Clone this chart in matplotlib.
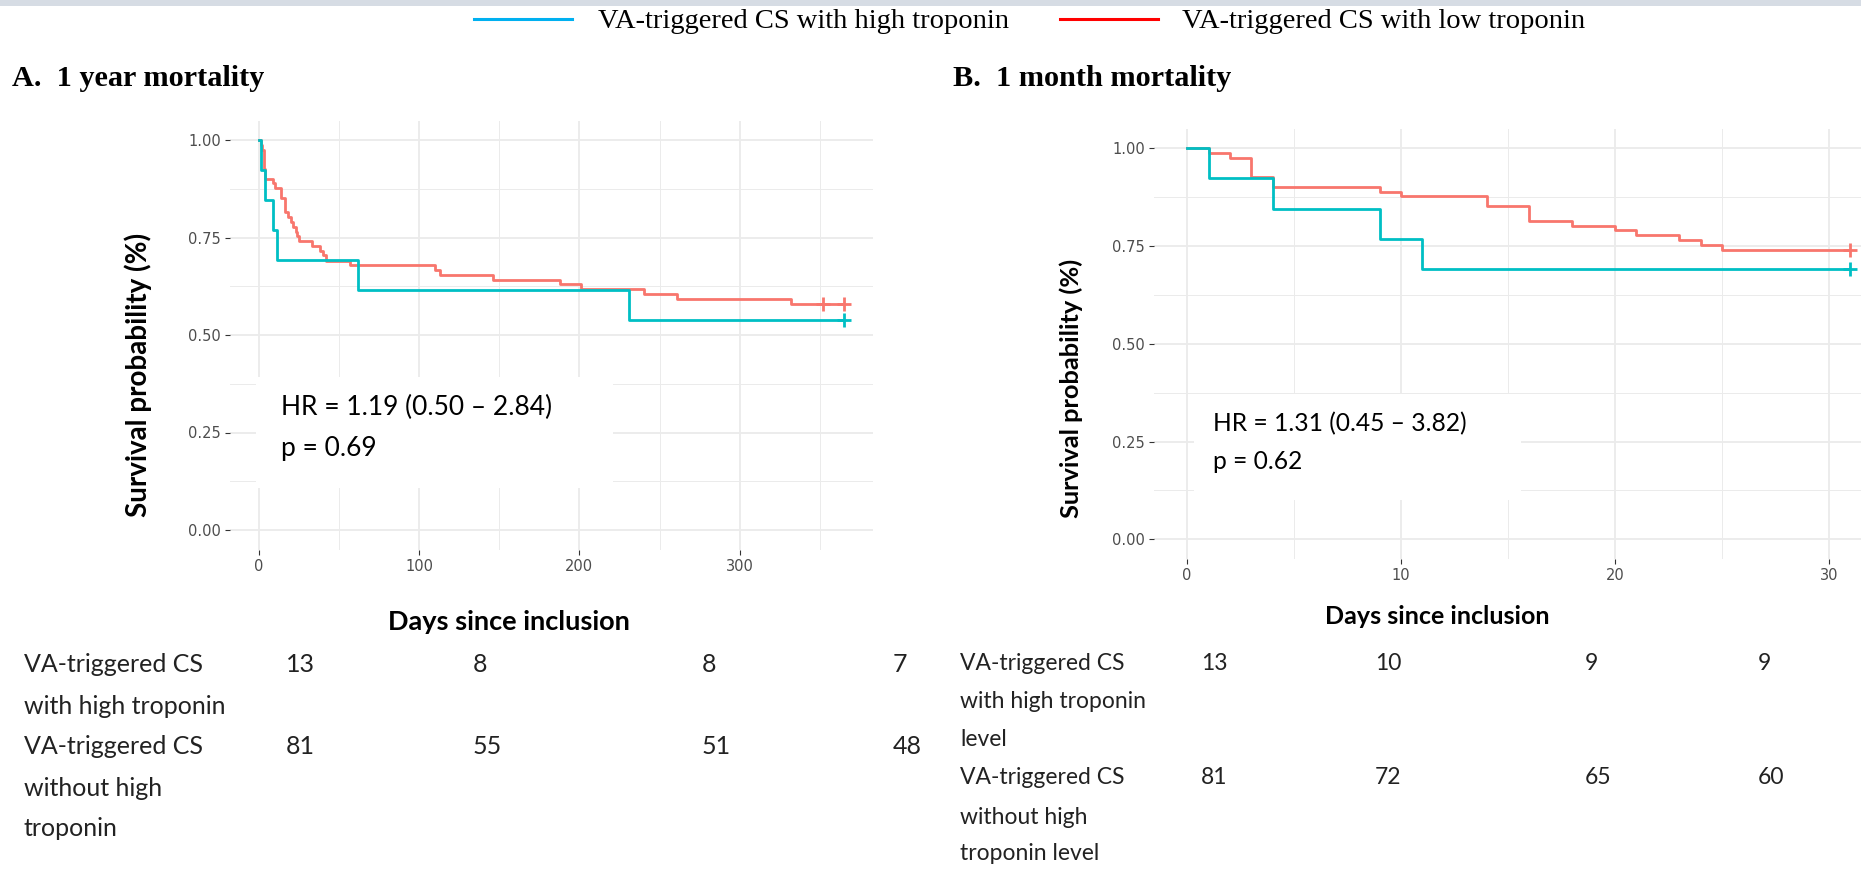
import numpy as np
import matplotlib
matplotlib.use("Agg")
import matplotlib.pyplot as plt
from matplotlib.patches import Rectangle
from matplotlib.lines import Line2D
from matplotlib.ticker import MultipleLocator, FormatStrFormatter

W, H = 1861, 877

# ---- Kaplan-Meier steps ----
# A. 1 year
yr_high_t = [0, 1, 4, 9, 11, 62, 231]
yr_high_s = [1.0, 0.923, 0.846, 0.769, 0.692, 0.615, 0.538]
yr_high_cens = [365]
yr_low_t = [0, 1, 2, 3, 4, 9, 10, 14, 16, 18, 20, 21, 23, 24, 25, 33, 38, 40,
            42, 57, 110, 113, 146, 188, 201, 240, 261, 332]
yr_low_s = [1.0, 0.988, 0.975, 0.926, 0.901, 0.889, 0.877, 0.852, 0.815, 0.802,
            0.790, 0.778, 0.765, 0.753, 0.741, 0.728, 0.716, 0.704, 0.691, 0.679,
            0.667, 0.654, 0.642, 0.630, 0.617, 0.605, 0.593, 0.580]
yr_low_cens = [352, 365]
yr_end = 365

# B. 1 month
mo_high_t = [0, 1, 4, 9, 11]
mo_high_s = [1.0, 0.923, 0.846, 0.769, 0.692]
mo_high_cens = [31]
mo_low_t = [0, 1, 2, 3, 4, 9, 10, 14, 16, 18, 20, 21, 23, 24, 25]
mo_low_s = [1.0, 0.988, 0.975, 0.926, 0.901, 0.889, 0.877, 0.852, 0.815, 0.802,
            0.790, 0.778, 0.765, 0.753, 0.741]
mo_low_cens = [31]
mo_end = 31

# numbers at risk
yr_risk_high = [13, 8, 8, 7]
yr_risk_low = [81, 55, 51, 48]
mo_risk_high = [13, 10, 9, 9]
mo_risk_low = [81, 72, 65, 60]

yr_hr = "HR = 1.19 (0.50 \u2013 2.84)"
yr_p = "p = 0.69"
mo_hr = "HR = 1.31 (0.45 \u2013 3.82)"
mo_p = "p = 0.62"

C_HIGH = "#00bfc4"
C_LOW = "#f8766d"
GRID = "#ebebeb"
SANS = "Lato"
SERIF = "Liberation Serif"


def fx(x):
    return x / W


def fy(y):
    return 1 - y / H


def add_panel(rect_px, xlim, xmajor, xminor):
    l, t, r, b = rect_px
    ax = fig.add_axes([fx(l), fy(b), (r - l) / W, (b - t) / H])
    ax.set_xlim(*xlim)
    ax.set_ylim(-0.05, 1.05)
    for s in ax.spines.values():
        s.set_visible(False)
    ax.xaxis.set_major_locator(MultipleLocator(xmajor))
    ax.xaxis.set_minor_locator(MultipleLocator(xminor))
    ax.yaxis.set_major_locator(MultipleLocator(0.25))
    ax.yaxis.set_minor_locator(MultipleLocator(0.125))
    ax.yaxis.set_major_formatter(FormatStrFormatter("%.2f"))
    ax.set_axisbelow(True)
    ax.grid(which="major", color=GRID, lw=1.3)
    ax.grid(which="minor", color=GRID, lw=0.7)
    ax.tick_params(which="major", length=3.5, width=0.8, color="#333333",
                   labelcolor="#4d4d4d", labelsize=10.5, pad=3)
    ax.tick_params(which="minor", length=0)
    for lab in ax.get_xticklabels() + ax.get_yticklabels():
        lab.set_family("DejaVu Sans")
    return ax


def km(ax, t, s, end, cens, color):
    tt = list(t) + [end]
    ss = list(s) + [s[-1]]
    ax.step(tt, ss, where="post", color=color, lw=2.0, zorder=3)
    idx = np.searchsorted(t, cens, side="right") - 1
    ax.plot(cens, np.array(s)[idx], ls="none", marker="+", ms=10, mew=2.0,
            color=color, zorder=4, clip_on=False)


fig = plt.figure(figsize=(W / 100, H / 100), dpi=100)

# thin banner at top
fig.add_artist(Rectangle((0, fy(6)), 1, 6 / H, transform=fig.transFigure,
                         color="#d6dce4", lw=0))

# legend
for (x0, x1, xt, col, lab) in [(474, 572, 598, "#00b0f0", "VA-triggered CS with high troponin"),
                              (1060, 1158, 1182, "#ff0000", "VA-triggered CS with low troponin")]:
    fig.add_artist(Line2D([fx(x0), fx(x1)], [fy(19), fy(19)], transform=fig.transFigure,
                          color=col, lw=2.2))
    fig.text(fx(xt), fy(22), lab, family=SERIF, fontsize=20.5, ha="left", va="center")

fig.text(fx(12), fy(79), "A.  1 year mortality", family=SERIF, weight="bold",
         fontsize=21.8, ha="left", va="center")
fig.text(fx(953), fy(79), "B.  1 month mortality", family=SERIF, weight="bold",
         fontsize=21.8, ha="left", va="center")

# ---- panel A ----
axA = add_panel((229.8, 120.5, 873, 549.5), (-18.25, 383.25), 100, 50)
axA.add_patch(Rectangle((-2, 0.108), 223, 0.284, facecolor="white", lw=0, zorder=1))
km(axA, yr_low_t, yr_low_s, yr_end, yr_low_cens, C_LOW)
km(axA, yr_high_t, yr_high_s, yr_end, yr_high_cens, C_HIGH)
axA.text(13.4, 0.315, yr_hr, family=SANS, fontsize=19, ha="left", va="center")
axA.text(13.4, 0.21, yr_p, family=SANS, fontsize=19, ha="left", va="center")

# ---- panel B ----
axB = add_panel((1154, 128.8, 1861, 558.8), (-1.55, 31.5), 10, 5)
axB.add_patch(Rectangle((0.3, 0.10), 15.3, 0.272, facecolor="white", lw=0, zorder=1))
km(axB, mo_low_t, mo_low_s, mo_end, mo_low_cens, C_LOW)
km(axB, mo_high_t, mo_high_s, mo_end, mo_high_cens, C_HIGH)
axB.text(1.2, 0.297, mo_hr, family=SANS, fontsize=17.7, ha="left", va="center")
axB.text(1.2, 0.198, mo_p, family=SANS, fontsize=17.7, ha="left", va="center")

# axis titles
fig.text(fx(138), fy(375), "Survival probability (%)", family=SANS, weight="bold",
         fontsize=20, rotation=90, ha="center", va="center")
fig.text(fx(1071), fy(388), "Survival probability (%)", family=SANS, weight="bold",
         fontsize=18.3, rotation=90, ha="center", va="center")
fig.text(fx(509), fy(622), "Days since inclusion", family=SANS, weight="bold",
         fontsize=19.5, ha="center", va="center")
fig.text(fx(1437), fy(617), "Days since inclusion", family=SANS, weight="bold",
         fontsize=18, ha="center", va="center")

# ---- number at risk tables ----
yr_names = [("VA-triggered CS", 665), ("with high troponin", 707),
            ("VA-triggered CS", 747), ("without high", 789), ("troponin", 829)]
for txt, y in yr_names:
    fig.text(fx(24), fy(y), txt, family=SANS, fontsize=18, color="#222222",
             ha="left", va="center")
yr_cols = [286, 473, 702, 893]
for vals, y in [(yr_risk_high, 665), (yr_risk_low, 747)]:
    for x, v in zip(yr_cols, vals):
        fig.text(fx(x), fy(y), str(v), family=SANS, fontsize=18, color="#222222",
                 ha="left", va="center")

mo_names = [("VA-triggered CS", 663), ("with high troponin", 702), ("level", 739),
            ("VA-triggered CS", 778), ("without high", 817), ("troponin level", 853)]
for txt, y in mo_names:
    fig.text(fx(960), fy(y), txt, family=SANS, fontsize=16.5, color="#222222",
             ha="left", va="center")
mo_cols = [1201, 1375, 1585, 1758]
for vals, y in [(mo_risk_high, 663), (mo_risk_low, 778)]:
    for x, v in zip(mo_cols, vals):
        fig.text(fx(x), fy(y), str(v), family=SANS, fontsize=16.5, color="#222222",
                 ha="left", va="center")

fig.savefig("out.png", dpi=100)
